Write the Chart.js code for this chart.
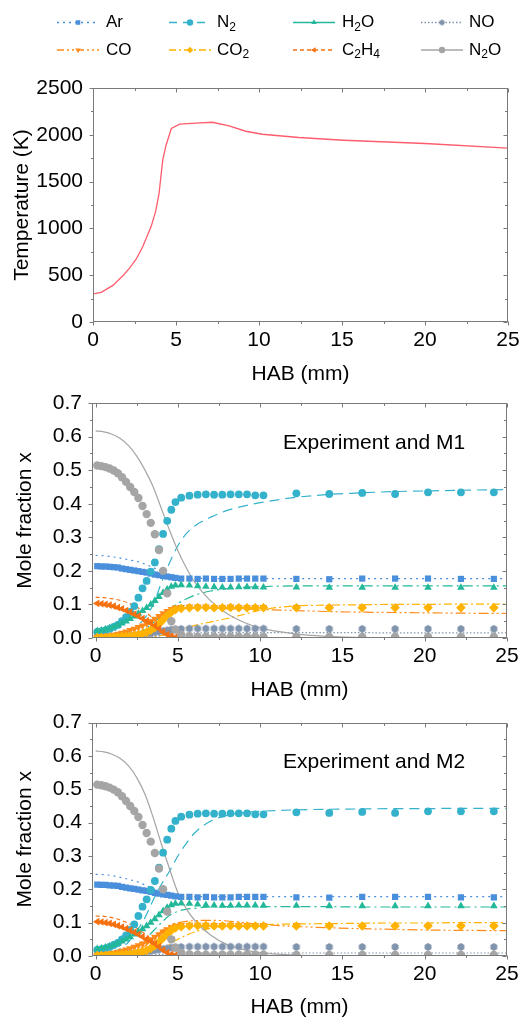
<!DOCTYPE html>
<html>
<head>
<meta charset="utf-8">
<script src="https://cdn.jsdelivr.net/npm/chart.js@4.4.0/dist/chart.umd.min.js"></script>
<style>
  html, body { margin: 0; padding: 0; background: #fff; }
  #wrap { position: relative; width: 528px; height: 1020px; overflow: hidden; }
  canvas { position: absolute; left: 0; }
</style>
</head>
<body>
<div id="wrap">
  <canvas id="tempChart" width="528" height="400" style="top:0px"></canvas>
  <canvas id="m1Chart" width="528" height="330" style="top:380px"></canvas>
  <canvas id="m2Chart" width="528" height="320" style="top:700px"></canvas>
</div>
<script>
// ticks
const habTicks = [0, 5, 10, 15, 20, 25];
const habMinor = [2.5, 7.5, 12.5, 17.5, 22.5];
const tempTicks = [0, 500, 1000, 1500, 2000, 2500];
const tempMinor = [250, 750, 1250, 1750, 2250];
const moleTicks = [0, 0.1, 0.2, 0.3, 0.4, 0.5, 0.6, 0.7];
const moleMinor = [0.05, 0.15, 0.25, 0.35, 0.45, 0.55, 0.65];

// temperature profile
const tempHab = [0, 0.5, 1.2, 1.8, 2.2, 2.6, 3.0, 3.5, 3.77, 3.98, 4.2, 4.4, 4.72, 5.22, 6.2, 7.2, 8.2, 9.2, 10.2, 12.4, 15.1, 20, 25];
const tempK = [300, 316, 391, 494, 575, 671, 806, 1019, 1179, 1374, 1729, 1889, 2067, 2113, 2124, 2134, 2095, 2038, 2006, 1971, 1942, 1907, 1857];

// species (legend order)
const speciesKeys = ['Ar', 'N2', 'H2O', 'NO', 'CO', 'CO2', 'C2H4', 'N2O'];
const speciesLabels = ['Ar', 'N_2', 'H_2O', 'NO', 'CO', 'CO_2', 'C_2H_4', 'N_2O'];

// experiment (same in both panels)
const expHab = [0.1, 0.35, 0.6, 0.85, 1.1, 1.35, 1.6, 1.85, 2.1, 2.35, 2.6, 2.85, 3.1, 3.35, 3.6, 3.85, 4.1, 4.35, 4.6, 4.85,
  5.2, 5.7, 6.2, 6.7, 7.2, 7.7, 8.2, 8.7, 9.2, 9.7, 10.2,
  12.2, 14.2, 16.2, 18.2, 20.2, 22.2, 24.2];
const expAr = [0.214, 0.213, 0.213, 0.212, 0.211, 0.210, 0.207, 0.205, 0.203, 0.201, 0.199, 0.197, 0.195, 0.192, 0.189, 0.187, 0.185, 0.183, 0.181, 0.179,
  0.177, 0.177, 0.176, 0.177, 0.176, 0.176, 0.176, 0.177, 0.177, 0.177, 0.177,
  0.176, 0.175, 0.177, 0.177, 0.177, 0.176, 0.176];
const expN2 = [0.018, 0.020, 0.023, 0.027, 0.033, 0.039, 0.050, 0.062, 0.078, 0.095, 0.120, 0.148, 0.170, 0.198, 0.225, 0.265, 0.310, 0.349, 0.382, 0.405,
  0.418, 0.424, 0.427, 0.428, 0.427, 0.427, 0.428, 0.428, 0.428, 0.425, 0.425,
  0.431, 0.429, 0.432, 0.429, 0.434, 0.434, 0.434];
const expH2O = [0.021, 0.023, 0.026, 0.029, 0.033, 0.038, 0.044, 0.050, 0.057, 0.065, 0.073, 0.081, 0.090, 0.100, 0.111, 0.123, 0.135, 0.145, 0.153, 0.157,
  0.158, 0.157, 0.155, 0.153, 0.152, 0.151, 0.151, 0.152, 0.152, 0.152, 0.151,
  0.151, 0.150, 0.150, 0.150, 0.150, 0.150, 0.150];
const expNO = [0.002, 0.002, 0.003, 0.003, 0.004, 0.005, 0.006, 0.007, 0.008, 0.009, 0.010, 0.012, 0.014, 0.015, 0.017, 0.019, 0.021, 0.023, 0.025, 0.026,
  0.027, 0.028, 0.028, 0.028, 0.028, 0.028, 0.028, 0.028, 0.028, 0.028, 0.028,
  0.027, 0.027, 0.027, 0.027, 0.027, 0.027, 0.027];
const expCO = [0.003, 0.004, 0.005, 0.007, 0.009, 0.012, 0.015, 0.019, 0.023, 0.027, 0.032, 0.037, 0.043, 0.050, 0.057, 0.065, 0.073, 0.080, 0.086, 0.090,
  0.092, 0.093, 0.093, 0.093, 0.092, 0.092, 0.093, 0.092, 0.092, 0.092, 0.092,
  0.092, 0.091, 0.090, 0.090, 0.090, 0.089, 0.089];
const expCO2 = [0.001, 0.001, 0.001, 0.002, 0.002, 0.003, 0.004, 0.005, 0.006, 0.008, 0.010, 0.013, 0.017, 0.023, 0.031, 0.042, 0.054, 0.066, 0.077, 0.084,
  0.088, 0.090, 0.091, 0.091, 0.090, 0.090, 0.091, 0.090, 0.090, 0.090, 0.090,
  0.090, 0.090, 0.090, 0.090, 0.090, 0.090, 0.090];
const expC2H4 = [0.103, 0.102, 0.100, 0.098, 0.095, 0.091, 0.087, 0.082, 0.077, 0.071, 0.065, 0.058, 0.051, 0.044, 0.037, 0.028, 0.018, 0.010, 0.005, 0.003,
  0.002, 0.002, 0.002, 0.002, 0.002, 0.002, 0.002, 0.002, 0.002, 0.002, 0.002,
  0.002, 0.002, 0.002, 0.002, 0.002, 0.002, 0.002];
const expN2O = [0.514, 0.512, 0.509, 0.505, 0.499, 0.491, 0.479, 0.465, 0.450, 0.435, 0.417, 0.393, 0.369, 0.343, 0.309, 0.262, 0.200, 0.133, 0.050, 0.025,
  0.010, 0.005, 0.004, 0.004, 0.004, 0.004, 0.004, 0.004, 0.004, 0.004, 0.004,
  0.003, 0.003, 0.003, 0.003, 0.003, 0.003, 0.003];

// model profiles
const modelHab = [0, 0.5, 1, 1.5, 2, 2.5, 3, 3.5, 4, 4.5, 5, 5.5, 6, 7, 8, 9, 10, 12, 14, 16, 18, 20, 22, 25];

const m1Ar = [0.246, 0.245, 0.242, 0.238, 0.233, 0.228, 0.220, 0.210, 0.198, 0.188, 0.182, 0.179, 0.178, 0.177, 0.177, 0.177, 0.177, 0.177, 0.177, 0.177, 0.177, 0.177, 0.177, 0.177];
const m1N2 = [0.005, 0.006, 0.008, 0.012, 0.020, 0.035, 0.060, 0.100, 0.165, 0.225, 0.275, 0.310, 0.333, 0.360, 0.380, 0.393, 0.403, 0.418, 0.427, 0.432, 0.436, 0.438, 0.440, 0.442];
const m1H2O = [0.000, 0.001, 0.002, 0.004, 0.008, 0.015, 0.027, 0.045, 0.066, 0.086, 0.103, 0.116, 0.127, 0.140, 0.147, 0.151, 0.153, 0.155, 0.155, 0.155, 0.155, 0.155, 0.155, 0.155];
const m1NO = [0.000, 0.000, 0.001, 0.001, 0.001, 0.002, 0.003, 0.005, 0.007, 0.010, 0.012, 0.014, 0.015, 0.016, 0.016, 0.016, 0.016, 0.016, 0.016, 0.016, 0.015, 0.015, 0.015, 0.015];
const m1CO = [0.000, 0.001, 0.002, 0.004, 0.008, 0.014, 0.024, 0.040, 0.062, 0.080, 0.088, 0.090, 0.090, 0.089, 0.087, 0.086, 0.085, 0.082, 0.079, 0.077, 0.076, 0.075, 0.074, 0.073];
const m1CO2 = [0.000, 0.000, 0.000, 0.000, 0.001, 0.001, 0.002, 0.004, 0.008, 0.014, 0.022, 0.030, 0.037, 0.048, 0.058, 0.070, 0.083, 0.095, 0.098, 0.099, 0.100, 0.100, 0.101, 0.101];
const m1C2H4 = [0.121, 0.120, 0.117, 0.112, 0.104, 0.092, 0.078, 0.058, 0.035, 0.015, 0.004, 0.001, 0.000, 0.000, 0.000, 0.000, 0.000, 0.000, 0.000, 0.000, 0.000, 0.000, 0.000, 0.000];
const m1N2O = [0.617, 0.614, 0.607, 0.594, 0.573, 0.542, 0.500, 0.450, 0.385, 0.320, 0.260, 0.210, 0.168, 0.110, 0.072, 0.047, 0.030, 0.013, 0.005, 0.002, 0.001, 0.000, 0.000, 0.000];

const m2Ar = [0.245, 0.244, 0.241, 0.236, 0.230, 0.223, 0.213, 0.202, 0.192, 0.184, 0.180, 0.178, 0.178, 0.178, 0.178, 0.178, 0.178, 0.178, 0.178, 0.178, 0.178, 0.178, 0.178, 0.178];
const m2N2 = [0.006, 0.008, 0.012, 0.022, 0.042, 0.075, 0.115, 0.168, 0.215, 0.255, 0.300, 0.337, 0.368, 0.405, 0.422, 0.430, 0.434, 0.438, 0.440, 0.441, 0.442, 0.442, 0.443, 0.443];
const m2H2O = [0.001, 0.002, 0.004, 0.008, 0.017, 0.030, 0.050, 0.075, 0.100, 0.122, 0.134, 0.140, 0.143, 0.147, 0.148, 0.148, 0.148, 0.148, 0.148, 0.147, 0.147, 0.147, 0.147, 0.147];
const m2NO = [0.000, 0.000, 0.000, 0.001, 0.001, 0.001, 0.002, 0.003, 0.005, 0.007, 0.008, 0.009, 0.009, 0.009, 0.009, 0.009, 0.009, 0.009, 0.009, 0.009, 0.009, 0.009, 0.009, 0.009];
const m2CO = [0.000, 0.001, 0.002, 0.005, 0.010, 0.018, 0.030, 0.050, 0.075, 0.092, 0.100, 0.104, 0.106, 0.107, 0.105, 0.100, 0.095, 0.089, 0.085, 0.082, 0.080, 0.078, 0.077, 0.076];
const m2CO2 = [0.000, 0.000, 0.000, 0.001, 0.002, 0.004, 0.006, 0.012, 0.020, 0.035, 0.050, 0.062, 0.072, 0.083, 0.089, 0.092, 0.094, 0.096, 0.097, 0.098, 0.099, 0.099, 0.100, 0.100];
const m2C2H4 = [0.120, 0.119, 0.115, 0.108, 0.098, 0.084, 0.066, 0.045, 0.022, 0.006, 0.001, 0.000, 0.000, 0.000, 0.000, 0.000, 0.000, 0.000, 0.000, 0.000, 0.000, 0.000, 0.000, 0.000];
const m2N2O = [0.615, 0.612, 0.605, 0.592, 0.570, 0.535, 0.485, 0.415, 0.335, 0.260, 0.190, 0.143, 0.108, 0.062, 0.034, 0.019, 0.010, 0.003, 0.001, 0.000, 0.000, 0.000, 0.000, 0.000];

const expData = { Ar: expAr, N2: expN2, H2O: expH2O, NO: expNO, CO: expCO, CO2: expCO2, C2H4: expC2H4, N2O: expN2O };
const m1Data = { Ar: m1Ar, N2: m1N2, H2O: m1H2O, NO: m1NO, CO: m1CO, CO2: m1CO2, C2H4: m1C2H4, N2O: m1N2O };
const m2Data = { Ar: m2Ar, N2: m2N2, H2O: m2H2O, NO: m2NO, CO: m2CO, CO2: m2CO2, C2H4: m2C2H4, N2O: m2N2O };

// ---- styles ----
const FONT = "'Liberation Sans', Arial, Helvetica, sans-serif";
Chart.defaults.font.family = FONT;
Chart.defaults.font.size = 21;
Chart.defaults.color = '#000';

function hexagon(color, r) {
  const c = document.createElement('canvas');
  const s = Math.ceil(r * 2) + 2;
  c.width = c.height = s;
  const g = c.getContext('2d');
  g.fillStyle = color;
  g.beginPath();
  for (let i = 0; i < 6; i++) {
    const a = Math.PI / 3 * i + Math.PI / 6;
    const px = s / 2 + r * Math.cos(a), py = s / 2 + r * Math.sin(a);
    if (i === 0) g.moveTo(px, py); else g.lineTo(px, py);
  }
  g.closePath();
  g.fill();
  return c;
}

const styles = {
  Ar:   { color: '#4a8fdc', dash: [2, 4], legendDash: [2, 4], point: 'rect', r: 4.4, rot: 0 },
  N2:   { color: '#34b2cc', dash: [10, 6], legendDash: [8, 6], point: 'circle', r: 3.9, rot: 0 },
  H2O:  { color: '#22b899', dash: [10, 4, 2, 4], legendDash: [], point: 'triangle', r: 4.4, rot: 0 },
  NO:   { color: '#8094ad', dash: [1.5, 2], legendDash: [1.5, 2], point: null, r: 4, rot: 0 },
  CO:   { color: '#ff8c1a', dash: [10, 3, 2, 3, 2, 3], legendDash: [7, 3, 2, 3, 2, 3], point: 'triangle', r: 4.4, rot: 180 },
  CO2:  { color: '#ffb300', dash: [8, 3, 2, 3], legendDash: [7, 3, 2, 3], point: 'rectRot', r: 4.8, rot: 0 },
  C2H4: { color: '#f5700f', dash: [4, 3], legendDash: [4, 3], point: 'triangle', r: 4.4, rot: 270 },
  N2O:  { color: '#a5a5a5', dash: [], legendDash: [], point: 'circle', r: 4.2, rot: 0 }
};
styles.NO.point = hexagon(styles.NO.color, 4);
const legendHex = hexagon(styles.NO.color, 3);

// ---- plugins ----
const framePlugin = {
  id: 'frame',
  afterDatasetsDraw(chart, args, opts) {
    const { ctx, chartArea: a, scales: { x, y } } = chart;
    const L = Math.round(a.left) + 0.5, R = Math.round(a.right) - 0.5;
    const T = Math.round(a.top) + 0.5, B = Math.round(a.bottom) - 0.5;
    ctx.save();
    ctx.strokeStyle = '#7a7a7a';
    ctx.lineWidth = 1;
    ctx.setLineDash([]);
    ctx.strokeRect(L, T, R - L, B - T);
    ctx.beginPath();
    const xt = (vals, len) => vals.forEach(v => {
      const px = Math.round(x.getPixelForValue(v)) + 0.5;
      ctx.moveTo(px, B); ctx.lineTo(px, B + len);
      ctx.moveTo(px, T); ctx.lineTo(px, T + len);
    });
    const yt = (vals, len) => vals.forEach(v => {
      const py = Math.round(y.getPixelForValue(v)) + 0.5;
      ctx.moveTo(L, py); ctx.lineTo(L - len, py);
      ctx.moveTo(R, py); ctx.lineTo(R - len, py);
    });
    xt(opts.xMajor, 4); xt(opts.xMinor, 2.5);
    yt(opts.yMajor, 4); yt(opts.yMinor, 2.5);
    ctx.stroke();
    ctx.restore();
  }
};

const notePlugin = {
  id: 'note',
  afterDraw(chart, args, opts) {
    if (!opts.text) return;
    const { ctx, chartArea: a } = chart;
    ctx.save();
    ctx.font = '21px ' + FONT;
    ctx.fillStyle = '#000';
    ctx.textBaseline = 'middle';
    ctx.textAlign = 'left';
    ctx.fillText(opts.text, a.left + 191, a.top + 40);
    ctx.restore();
  }
};

function drawSubText(ctx, label, x, y) {
  let cx = x;
  label.split(/(_\d)/).forEach(p => {
    if (!p) return;
    if (p[0] === '_') {
      ctx.font = '12px ' + FONT;
      ctx.fillText(p[1], cx, y + 5);
      cx += ctx.measureText(p[1]).width;
    } else {
      ctx.font = '17px ' + FONT;
      ctx.fillText(p, cx, y);
      cx += ctx.measureText(p).width;
    }
  });
}

const legendPlugin = {
  id: 'speciesLegend',
  afterDraw(chart) {
    const ctx = chart.ctx;
    const lineX = [57, 169, 293, 421];
    const textX = [106, 217, 342, 469];
    const rowY = [22.5, 50];
    ctx.save();
    speciesKeys.forEach((k, i) => {
      const st = styles[k];
      const col = i % 4, row = Math.floor(i / 4);
      const y = rowY[row];
      ctx.strokeStyle = st.color;
      ctx.lineWidth = 1.3;
      ctx.setLineDash(st.legendDash);
      ctx.beginPath();
      ctx.moveTo(lineX[col], y);
      ctx.lineTo(lineX[col] + 42, y);
      ctx.stroke();
      ctx.setLineDash([]);
      ctx.fillStyle = st.color;
      const ps = k === 'NO' ? legendHex : st.point;
      Chart.helpers.drawPoint(ctx, { pointStyle: ps, radius: 3.2, rotation: st.rot, borderWidth: 0 }, lineX[col] + 21, y);
      ctx.fillStyle = '#000';
      ctx.textBaseline = 'middle';
      ctx.textAlign = 'left';
      drawSubText(ctx, speciesLabels[i], textX[col], y);
    });
    ctx.restore();
  }
};

// ---- charts ----
function xAxis(min, height, titlePad) {
  return {
    type: 'linear', min: min, max: 25,
    afterBuildTicks: s => { s.ticks = habTicks.map(v => ({ value: v })); },
    afterFit: s => { s.height = height; },
    grid: { display: false, drawTicks: false },
    border: { display: false },
    ticks: { padding: 6, autoSkip: false, maxRotation: 0, callback: v => String(v) },
    title: { display: true, text: 'HAB (mm)', padding: { top: 0, bottom: titlePad } }
  };
}

new Chart(document.getElementById('tempChart'), {
  type: 'line',
  data: {
    datasets: [{
      data: tempHab.map((x, i) => ({ x: x, y: tempK[i] })),
      borderColor: '#ff5c6c',
      borderWidth: 1.3,
      pointRadius: 0,
      tension: 0,
      fill: false
    }]
  },
  options: {
    responsive: false,
    animation: false,
    events: [],
    layout: { padding: { top: 88, left: 0, right: 20, bottom: 0 } },
    plugins: {
      legend: { display: false }, tooltip: { enabled: false },
      frame: { xMajor: habTicks, xMinor: habMinor, yMajor: tempTicks, yMinor: tempMinor }
    },
    scales: {
      x: xAxis(0, 78, 13),
      y: {
        min: 0, max: 2500,
        afterBuildTicks: s => { s.ticks = tempTicks.map(v => ({ value: v })); },
        afterFit: s => { s.width = 93; },
        grid: { display: false, drawTicks: false },
        border: { display: false },
        ticks: { padding: 10, autoSkip: false, callback: v => String(v) },
        title: { display: true, text: 'Temperature (K)', padding: { top: 10, bottom: 0 } }
      }
    }
  },
  plugins: [framePlugin, legendPlugin]
});

function moleDatasets(model) {
  const sets = [];
  speciesKeys.forEach((k, i) => {
    const st = styles[k];
    sets.push({
      data: expHab.map((x, j) => ({ x: x, y: expData[k][j] })),
      showLine: false,
      pointStyle: st.point,
      pointRadius: st.r,
      pointRotation: st.rot,
      pointBackgroundColor: st.color,
      pointBorderWidth: 0,
      order: 10 - i
    });
    sets.push({
      data: modelHab.map((x, j) => ({ x: x, y: model[k][j] })),
      borderColor: st.color,
      borderWidth: 1.2,
      borderDash: st.dash,
      pointRadius: 0,
      cubicInterpolationMode: 'monotone',
      fill: false,
      order: 30 - i
    });
  });
  return sets;
}

function moleChart(id, model, note, xHeight, titlePad, padTop) {
  new Chart(document.getElementById(id), {
    type: 'line',
    data: { datasets: moleDatasets(model) },
    options: {
      responsive: false,
      animation: false,
      events: [],
      layout: { padding: { top: padTop, left: 0, right: 21, bottom: 0 } },
      plugins: {
        legend: { display: false }, tooltip: { enabled: false },
        frame: { xMajor: habTicks, xMinor: habMinor, yMajor: moleTicks, yMinor: moleMinor },
        note: { text: note }
      },
      scales: {
        x: xAxis(-0.22, xHeight, titlePad),
        y: {
          min: 0, max: 0.7,
          afterBuildTicks: s => { s.ticks = moleTicks.map(v => ({ value: v })); },
          afterFit: s => { s.width = 92; },
          grid: { display: false, drawTicks: false },
          border: { display: false },
          ticks: { padding: 10, autoSkip: false, callback: v => v.toFixed(1) },
          title: { display: true, text: 'Mole fraction x', padding: { top: 13, bottom: 0 } }
        }
      }
    },
    plugins: [framePlugin, notePlugin]
  });
}

moleChart('m1Chart', m1Data, 'Experiment and M1', 72, 7, 23);
moleChart('m2Chart', m2Data, 'Experiment and M2', 64, 0, 22);
</script>
</body>
</html>
